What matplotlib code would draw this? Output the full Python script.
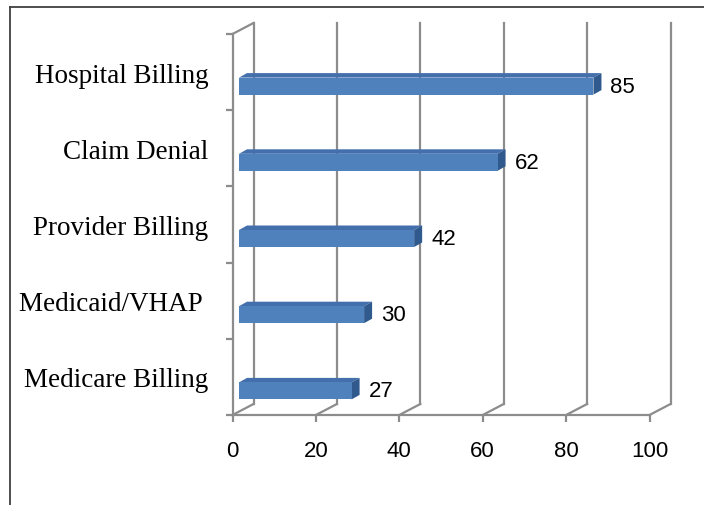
import matplotlib
matplotlib.use("Agg")
import matplotlib.pyplot as plt
from matplotlib.patches import Polygon, Rectangle
from matplotlib.lines import Line2D

# data (bottom to top)
categories = ["Medicare Billing", "Medicaid/VHAP ", "Provider Billing", "Claim Denial", "Hospital Billing"]
values = [27, 30, 42, 62, 85]
xticks = [0, 20, 40, 60, 80, 100]

W, H = 704, 506
fig = plt.figure(figsize=(W / 100, H / 100), dpi=100)

# front plane of the 3d box, in pixels
x0, x1 = 232.5, 649.5
ytop, ybot = 35, 416
ax = fig.add_axes([x0 / W, (H - ybot) / H, (x1 - x0) / W, (ybot - ytop) / H])
ax.set_xlim(0, 100)
ax.set_ylim(-0.5, 4.5)

ux = (x1 - x0) / 100.0        # px per x unit
uy = (ybot - ytop) / 5.0      # px per category

grid_c = "#8c8c8c"
lw = 1.6

# depth of the walls
DX, DY = 21 / ux, 11 / uy

for s in ["top", "right"]:
    ax.spines[s].set_visible(False)
for s in ["bottom", "left"]:
    ax.spines[s].set_color(grid_c)
    ax.spines[s].set_linewidth(lw)

ax.set_xticks(xticks)
ax.set_xticklabels([str(t) for t in xticks], fontsize=16, family="Liberation Sans")
ax.tick_params(axis="x", length=5, width=lw, color=grid_c, pad=13)

ax.set_yticks(range(len(categories)))
ax.set_yticklabels(categories, fontsize=19.5, family="Liberation Serif")
ax.tick_params(axis="y", which="major", length=0, pad=24 * 0.72)
ax.set_yticks([i - 0.5 for i in range(len(categories) + 1)], minor=True)
ax.tick_params(axis="y", which="minor", length=5, width=lw, color=grid_c)

# back wall gridlines and floor
for t in xticks:
    ax.plot([t + DX, t + DX], [-0.5 + DY, 4.5 + DY], color=grid_c, lw=lw, clip_on=False, zorder=1)
    ax.plot([t, t + DX], [-0.5, -0.5 + DY], color=grid_c, lw=lw, clip_on=False, zorder=1)
ax.plot([0, DX], [4.5, 4.5 + DY], color=grid_c, lw=lw, clip_on=False, zorder=1)

# bars
bx = 6.5 / ux          # shift of bar front face
bh = 17 / uy           # front face height
boff = 14 / uy         # bars sit a little below the band centre
ddx, ddy = 8 / ux, 4.5 / uy
front_c, top_c, side_c = "#4f81bd", "#4370ad", "#30598e"
for i, v in enumerate(values):
    yc = i - boff
    yb, yt = yc - bh / 2, yc + bh / 2
    ax.add_patch(Polygon([[bx, yt], [bx + v, yt], [bx + v + ddx, yt + ddy], [bx + ddx, yt + ddy]],
                         closed=True, facecolor=top_c, edgecolor="none", zorder=3, clip_on=False))
    ax.add_patch(Polygon([[bx + v, yb], [bx + v + ddx, yb + ddy], [bx + v + ddx, yt + ddy], [bx + v, yt]],
                         closed=True, facecolor=side_c, edgecolor="none", zorder=3, clip_on=False))
    ax.add_patch(Rectangle((bx, yb), v, bh, facecolor=front_c, edgecolor="none", zorder=4, clip_on=False))
    ax.annotate(str(v), (bx + v, yc), xytext=(17 * 0.72, 0), textcoords="offset points",
                ha="left", va="center", fontsize=16, family="Liberation Sans")

# outer frame (only top and left edges visible)
fig.add_artist(Line2D([10 / W, 1], [(H - 8) / H, (H - 8) / H], color="#404040", lw=1.3))
fig.add_artist(Line2D([10 / W, 10 / W], [0, (H - 8) / H], color="#404040", lw=1.3))

fig.savefig("out.png", dpi=100)
